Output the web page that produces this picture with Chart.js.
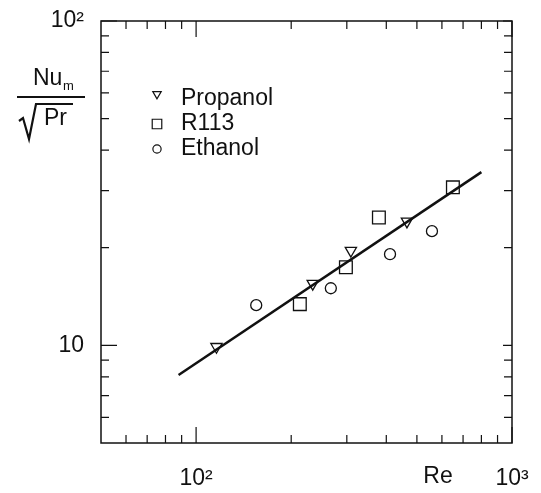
<!DOCTYPE html>
<html>
<head>
<meta charset="utf-8">
<script src="https://cdn.jsdelivr.net/npm/chart.js@4/dist/chart.umd.min.js"></script>
<style>
    html, body { margin: 0; padding: 0; background: #fff; }
</style>
</head>
<body>
<canvas id="chart" width="541" height="493"></canvas>
<script>
// values (Re, Nu_m / sqrt(Pr))
const propanolRe = [116, 234, 309, 465];
const propanolNu = [9.9, 15.5, 19.6, 24.1];
const r113Re = [213, 298, 379, 650];
const r113Nu = [13.4, 17.4, 24.8, 30.7];
const ethanolRe = [155, 267, 411, 558];
const ethanolNu = [13.3, 15.0, 19.1, 22.5];
const fitRe = [88, 800];
const fitNu = [8.1, 34.2];

const xTicks = [100, 1000];
const xTickLabels = ['10²', '10³'];
const yTicks = [10, 100];
const yTickLabels = ['10', '10²'];
const xMinor = [60, 70, 80, 90, 200, 300, 400, 500, 600, 700, 800, 900];
const yMinor = [6, 7, 8, 9, 20, 30, 40, 50, 60, 70, 80, 90];

const FONT = '"Liberation Sans", Arial, Helvetica, sans-serif';
const INK = '#111';

function toPoints(xs, ys){
    return xs.map((x, i) => ({ x, y: ys[i] }));
}

const legendItems = [
    { label: 'Propanol', ds: 0, dy: -5 },
    { label: 'R113', ds: 1, dy: 0 },
    { label: 'Ethanol', ds: 2, dy: 0 }
];

// frame with inward ticks on all four sides
const frameTicks = {
    id: 'frameTicks',
    afterDatasetsDraw(chart){
        const ctx = chart.ctx;
        const { left, right, top, bottom } = chart.chartArea;
        const xs = chart.scales.x;
        const ys = chart.scales.y;
        ctx.save();
        ctx.strokeStyle = INK;
        ctx.lineWidth = 1.5;
        ctx.strokeRect(left, top, right - left, bottom - top);
        ctx.lineWidth = 1.2;
        ctx.beginPath();
        const tick = (x1, y1, x2, y2) => { ctx.moveTo(x1, y1); ctx.lineTo(x2, y2); };
        xMinor.forEach(v => {
            const px = xs.getPixelForValue(v);
            tick(px, bottom, px, bottom - 8);
            tick(px, top, px, top + 8);
        });
        xTicks.forEach(v => {
            const px = xs.getPixelForValue(v);
            tick(px, bottom, px, bottom - 16);
            tick(px, top, px, top + 16);
        });
        yMinor.forEach(v => {
            const py = ys.getPixelForValue(v);
            tick(left, py, left + 8, py);
            tick(right, py, right - 8, py);
        });
        yTicks.forEach(v => {
            const py = ys.getPixelForValue(v);
            tick(left, py, left + 16, py);
            tick(right, py, right - 9, py);
        });
        ctx.stroke();
        ctx.restore();
    },
    afterDraw(chart){
        const ctx = chart.ctx;
        ctx.save();
        ctx.fillStyle = INK;
        ctx.strokeStyle = INK;

        // legend inside the plot
        ctx.font = '23px ' + FONT;
        ctx.textBaseline = 'middle';
        ctx.textAlign = 'left';
        legendItems.forEach((item, i) => {
            const y = 99 + i * 25;
            const opts = chart.data.datasets[item.ds];
            ctx.lineWidth = 1.2;
            ctx.fillStyle = 'rgba(0,0,0,0)';
            Chart.helpers.drawPoint(ctx, {
                pointStyle: opts.pointStyle,
                radius: opts.pointRadius * 0.75,
                rotation: opts.pointRotation || 0,
                borderWidth: 1.2
            }, 157, y + item.dy);
            ctx.fillStyle = INK;
            ctx.fillText(item.label, 181, y);
        });

        // y axis title: Nu_m / sqrt(Pr)
        ctx.textAlign = 'left';
        ctx.font = '23px ' + FONT;
        ctx.fillText('Nu', 33, 79);
        ctx.font = '13px ' + FONT;
        ctx.fillText('m', 63, 86);
        ctx.font = '23px ' + FONT;
        ctx.fillText('Pr', 44, 119);
        ctx.lineWidth = 2;
        ctx.beginPath();
        ctx.moveTo(17, 97);
        ctx.lineTo(85, 97);
        ctx.stroke();
        ctx.lineWidth = 2.2;
        ctx.beginPath();
        ctx.moveTo(19, 121);
        ctx.lineTo(23, 118);
        ctx.lineTo(29, 139);
        ctx.lineTo(36, 104);
        ctx.lineTo(73, 104);
        ctx.stroke();

        // x axis title
        ctx.font = '23px ' + FONT;
        ctx.textAlign = 'center';
        ctx.fillText('Re', 438, 477);
        ctx.restore();
    }
};

const markerBase = {
    type: 'scatter',
    showLine: false,
    borderColor: INK,
    backgroundColor: 'rgba(0,0,0,0)',
    pointBorderWidth: 1.3
};

new Chart(document.getElementById('chart'), {
    type: 'scatter',
    data: {
        datasets: [
            Object.assign({}, markerBase, {
                label: 'Propanol',
                data: toPoints(propanolRe, propanolNu),
                pointStyle: 'triangle',
                pointRotation: 180,
                pointRadius: 6.5
            }),
            Object.assign({}, markerBase, {
                label: 'R113',
                data: toPoints(r113Re, r113Nu),
                pointStyle: 'rect',
                pointRadius: 9
            }),
            Object.assign({}, markerBase, {
                label: 'Ethanol',
                data: toPoints(ethanolRe, ethanolNu),
                pointStyle: 'circle',
                pointRadius: 5.5
            }),
            {
                type: 'line',
                label: 'fit',
                data: toPoints(fitRe, fitNu),
                borderColor: INK,
                borderWidth: 2.5,
                pointRadius: 0,
                fill: false
            }
        ]
    },
    options: {
        responsive: false,
        animation: false,
        layout: { padding: { left: 0, right: 29, top: 21, bottom: 0 } },
        plugins: {
            legend: { display: false },
            tooltip: { enabled: false }
        },
        scales: {
            x: {
                type: 'logarithmic',
                min: 50,
                max: 1000,
                grid: { display: false, drawTicks: false },
                border: { display: false },
                afterBuildTicks: scale => { scale.ticks = xTicks.map(v => ({ value: v })); },
                afterFit: scale => {
                    scale.height = 50;
                    scale.paddingLeft = 0;
                    scale.paddingRight = 0;
                },
                ticks: {
                    color: INK,
                    font: { family: FONT, size: 23 },
                    padding: 22,
                    maxRotation: 0,
                    autoSkip: false,
                    callback: v => xTickLabels[xTicks.indexOf(v)]
                }
            },
            y: {
                type: 'logarithmic',
                min: 5,
                max: 100,
                grid: { display: false, drawTicks: false },
                border: { display: false },
                afterBuildTicks: scale => { scale.ticks = yTicks.map(v => ({ value: v })); },
                afterFit: scale => {
                    scale.width = 101;
                    scale.paddingTop = 0;
                    scale.paddingBottom = 0;
                },
                ticks: {
                    color: INK,
                    font: { family: FONT, size: 23 },
                    padding: 17,
                    autoSkip: false,
                    callback: v => yTickLabels[yTicks.indexOf(v)]
                }
            }
        }
    },
    plugins: [frameTicks]
});
</script>
</body>
</html>
